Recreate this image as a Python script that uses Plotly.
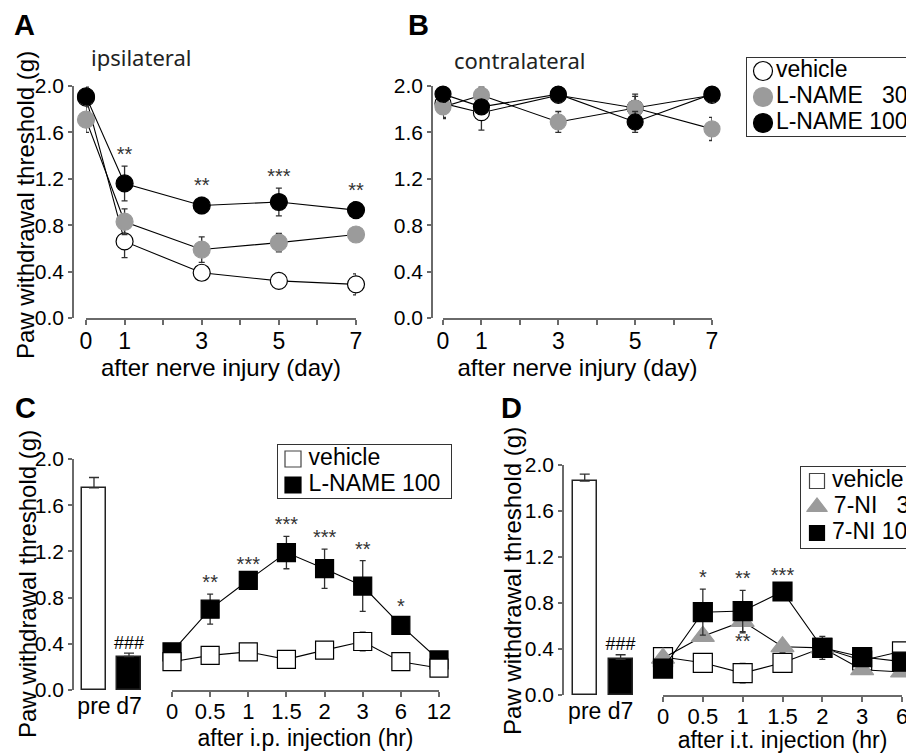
import numpy as np
import plotly.graph_objects as go

# ---------------- data ----------------
# Panels A/B: days after nerve injury
days = [0, 1, 3, 5, 7]
day_ticks = [0, 1, 2, 3, 4, 5, 6, 7]
day_ticktext = ["0", "1", "", "3", "", "5", "", "7"]

A_vehicle = [1.90, 0.66, 0.39, 0.32, 0.29]
A_vehicle_err = [0.05, 0.14, 0.02, 0.04, 0.09]
A_ln30 = [1.71, 0.83, 0.59, 0.65, 0.72]
A_ln30_err = [0.11, 0.11, 0.11, 0.08, 0.05]
A_ln100 = [1.91, 1.16, 0.97, 1.00, 0.93]
A_ln100_err = [0.08, 0.15, 0.07, 0.12, 0.07]
A_stars = ["", "**", "**", "***", "**"]

B_vehicle = [1.85, 1.77, 1.92, 1.81, 1.92]
B_vehicle_err = [0.12, 0.15, 0.05, 0.12, 0.05]
B_ln30 = [1.82, 1.92, 1.69, 1.81, 1.63]
B_ln30_err = [0.10, 0.07, 0.09, 0.10, 0.10]
B_ln100 = [1.93, 1.82, 1.93, 1.69, 1.93]
B_ln100_err = [0.07, 0.05, 0.07, 0.09, 0.07]

# Panel C
bar_labels = ["pre", "d7"]
C_bar = [1.75, 0.29]
C_bar_err = [0.09, 0.03]
C_bar_mark = ["", "###"]
C_times = ["0", "0.5", "1", "1.5", "2", "3", "6", "12"]
C_vehicle = [0.245, 0.30, 0.33, 0.265, 0.345, 0.42, 0.245, 0.19]
C_vehicle_err = [0.03, 0.03, 0.04, 0.02, 0.03, 0.08, 0.03, 0.02]
C_ln100 = [0.33, 0.70, 0.95, 1.19, 1.05, 0.90, 0.56, 0.26]
C_ln100_err = [0.03, 0.13, 0.04, 0.14, 0.17, 0.22, 0.06, 0.03]
C_stars = ["", "**", "***", "***", "***", "**", "*", ""]

# Panel D
D_bar = [1.86, 0.31]
D_bar_err = [0.06, 0.04]
D_bar_mark = ["", "###"]
D_times = ["0", "0.5", "1", "1.5", "2", "3", "6"]
D_vehicle = [0.33, 0.28, 0.19, 0.28, 0.41, 0.30, 0.38]
D_vehicle_err = [0.03, 0.03, 0.085, 0.03, 0.03, 0.03, 0.03]
D_7ni3 = [0.32, 0.51, 0.64, 0.42, 0.41, 0.22, 0.20]
D_7ni3_err = [0.03, 0.03, 0.10, 0.05, 0.05, 0.03, 0.03]
D_7ni10 = [0.23, 0.72, 0.73, 0.90, 0.41, 0.33, 0.29]
D_7ni10_err = [0.03, 0.20, 0.18, 0.04, 0.10, 0.03, 0.03]
D_stars_top = ["", "*", "**", "***", "", "", ""]
D_stars_bottom = ["", "", "**", "", "", "", ""]

y_ticks = [0.0, 0.4, 0.8, 1.2, 1.6, 2.0]
y_ticktext = ["0.0", "0.4", "0.8", "1.2", "1.6", "2.0"]

legend_AB = ["vehicle", "L-NAME\u00a0\u00a0\u00a030", "L-NAME 100"]
legend_C = ["\u2009vehicle", "\u2009L-NAME 100"]
legend_D = ["\u2009vehicle", "\u20097-NI\u00a0\u00a0\u00a03", "\u20097-NI 10"]

# ---------------- styling helpers ----------------
# the page body keeps an 8px margin, so the figure is sized to fit the window
OFF = 8
W, H = 914 - OFF, 753 - OFF
def fx(p):
    return (p - OFF) / W
def fy(p):
    return 1 - (p - OFF) / H

FONT = "Liberation Sans, Arial, Helvetica, sans-serif"
HUMAN = "Noto Sans, Open Sans, sans-serif"
AXC = "#6a6a6a"
GRAY = "#9b9b9b"
ERRC = "#303030"
YTITLE = "Paw withdrawal threshold (g)"
LEG_FONT = 23

fig = go.Figure()


def series(xa, ya, x, y, err, symbol, fill, outline, size, lw=1.2):
    fig.add_trace(go.Scatter(
        x=x, y=y, xaxis=xa, yaxis=ya, mode="lines+markers",
        line=dict(color="black", width=1.1),
        marker=dict(symbol=symbol, size=size, color=fill, opacity=1,
                    line=dict(color=outline, width=lw)),
        error_y=dict(type="data", array=err, visible=True, color=ERRC, thickness=1.3, width=3),
        cliponaxis=False, showlegend=False, hoverinfo="skip"))


def stars(xa, ya, x, y, labels, pos="top center", size=20, color="#333333"):
    fig.add_trace(go.Scatter(
        x=x, y=y, xaxis=xa, yaxis=ya, mode="text", text=labels, textposition=pos,
        textfont=dict(size=size, color=color, family=FONT),
        cliponaxis=False, showlegend=False, hoverinfo="skip"))


def bars(xa, ya, y, err, width):
    fig.add_trace(go.Bar(
        x=bar_labels, y=y, xaxis=xa, yaxis=ya, width=width,
        marker=dict(color=["white", "black"], line=dict(color="#222222", width=1.5)),
        error_y=dict(type="data", array=err, arrayminus=[0] * len(err), symmetric=False,
                     visible=True, color=ERRC, thickness=1.3, width=5),
        showlegend=False, hoverinfo="skip"))


def legend_items(xa, ya, names, symbols, fills, outlines, sizes):
    fig.add_trace(go.Scatter(
        x=[0] * len(names), y=list(range(len(names))), xaxis=xa, yaxis=ya,
        mode="markers+text", text=names, textposition="middle right",
        textfont=dict(size=LEG_FONT, color="black", family=FONT),
        marker=dict(symbol=symbols, size=sizes, color=fills, opacity=1,
                    line=dict(color=outlines, width=1.2)),
        cliponaxis=False, showlegend=False, hoverinfo="skip"))


# ---------------- Panel A ----------------
series("x", "y", days, A_vehicle, A_vehicle_err, "circle", "white", "black", 17)
series("x", "y", days, A_ln30, A_ln30_err, "circle", GRAY, GRAY, 17)
series("x", "y", days, A_ln100, A_ln100_err, "circle", "black", "black", 17)
stars("x", "y", days, np.add(A_ln100, A_ln100_err), A_stars)

# ---------------- Panel B ----------------
series("x2", "y2", days, B_vehicle, B_vehicle_err, "circle", "white", "black", 16)
series("x2", "y2", days, B_ln30, B_ln30_err, "circle", GRAY, GRAY, 16)
series("x2", "y2", days, B_ln100, B_ln100_err, "circle", "black", "black", 16)

# ---------------- Panel C ----------------
bars("x3", "y3", C_bar, C_bar_err, 0.69)
stars("x3", "y3", bar_labels, np.add(C_bar, C_bar_err), C_bar_mark, size=18, color="black")
series("x4", "y3", C_times, C_ln100, C_ln100_err, "square", "black", "black", 18)
series("x4", "y3", C_times, C_vehicle, C_vehicle_err, "square", "white", "black", 18)
stars("x4", "y3", C_times, np.add(C_ln100, C_ln100_err), C_stars)

# ---------------- Panel D ----------------
bars("x5", "y5", D_bar, D_bar_err, 0.67)
stars("x5", "y5", bar_labels, np.add(D_bar, D_bar_err), D_bar_mark, size=18, color="black")
series("x6", "y5", D_times, D_vehicle, D_vehicle_err, "square", "white", "black", 19)
series("x6", "y5", D_times, D_7ni3, D_7ni3_err, "triangle-up", GRAY, GRAY, 20)
series("x6", "y5", D_times, D_7ni10, D_7ni10_err, "square", "black", "black", 19)
stars("x6", "y5", D_times, np.add(D_7ni10, D_7ni10_err), D_stars_top)
stars("x6", "y5", D_times, np.subtract(D_7ni3, D_7ni3_err), D_stars_bottom, pos="bottom center")

# ---------------- legends ----------------
legend_items("x7", "y7", legend_AB, ["circle"] * 3, ["white", GRAY, "black"],
             ["black", GRAY, "black"], [19, 19, 19])
legend_items("x8", "y8", legend_C, ["square"] * 2, ["white", "black"], ["#444444", "black"], [16, 16])
legend_items("x9", "y9", legend_D, ["square", "triangle-up", "square"],
             ["white", GRAY, "black"], ["#444444", GRAY, "black"], [15, 18, 15])

# ---------------- axes ----------------
tickfont_y = dict(size=21, family=FONT, color="black")
tickfont_x = dict(size=23, family=FONT, color="black")
tickfont_x2 = dict(size=22, family=FONT, color="black")


def yaxis(top, bot, pos):
    return dict(domain=[fy(bot), fy(top)], range=[0, 2], anchor="free", position=fx(pos),
                tickvals=y_ticks, ticktext=y_ticktext, showline=True, linecolor=AXC, linewidth=1.5,
                ticks="outside", ticklen=4, tickwidth=1.5, tickcolor=AXC, showgrid=False,
                zeroline=False, tickfont=tickfont_y, fixedrange=True, automargin=False)


def xaxis_line(left, right, anchor, rng, tickvals, ticktext, title, lab_shift=0, standoff=4,
               tickfont=tickfont_x, title_size=24):
    return dict(domain=[fx(left), fx(right)], range=rng, anchor=anchor,
                tickvals=tickvals, ticktext=ticktext, showline=True, linecolor=AXC, linewidth=1.5,
                ticks="outside", ticklen=5, tickwidth=1.5, tickcolor=AXC, showgrid=False,
                zeroline=False, tickfont=tickfont, fixedrange=True, automargin=False,
                ticklabelstandoff=lab_shift,
                title=dict(text=title, font=dict(size=title_size, family=FONT, color="black"),
                           standoff=standoff))


def xaxis_bar(left, right, anchor, rng):
    return dict(domain=[fx(left), fx(right)], range=rng, anchor=anchor, type="category",
                categoryorder="array", categoryarray=bar_labels,
                showline=False, ticks="", showgrid=False, zeroline=False,
                tickfont=tickfont_x, fixedrange=True, automargin=False)


def legend_axes(left, right, top, bot, n, rows_px, first_px, marker_px):
    xa = dict(domain=[fx(left), min(1.0, fx(right))], range=[-1, (right - left) / marker_px - 1],
              showline=True, mirror=True, linecolor="#333333", linewidth=1.3,
              showticklabels=False, ticks="", showgrid=False, zeroline=False, fixedrange=True,
              automargin=False)
    ya = dict(domain=[fy(bot), fy(top)],
              range=[(n - 1) + (bot - (first_px + (n - 1) * rows_px)) / rows_px,
                     -(first_px - top) / rows_px],
              showline=True, mirror=True, linecolor="#333333", linewidth=1.3,
              showticklabels=False, ticks="", showgrid=False, zeroline=False, fixedrange=True,
              automargin=False)
    return xa, ya


lx7, ly7 = legend_axes(747, 914, 58, 136, 3, 26, 71, 16)
lx8, ly8 = legend_axes(278, 451, 445, 498, 2, 26, 459, 15)
lx9, ly9 = legend_axes(801, 914, 467, 548, 3, 26, 481, 16)
lx7["anchor"], ly7["anchor"] = "y7", "x7"
lx8["anchor"], ly8["anchor"] = "y8", "x8"
lx9["anchor"], ly9["anchor"] = "y9", "x9"

fig.update_layout(
    template="none",
    width=W, height=H, margin=dict(l=0, r=0, t=0, b=0, pad=0), autosize=False,
    paper_bgcolor="white", plot_bgcolor="rgba(0,0,0,0)", showlegend=False,
    font=dict(family=FONT, color="black"),
    bargap=0,
    # Panel A
    xaxis=xaxis_line(86, 356, "y", [0, 7], day_ticks, day_ticktext, "after nerve injury (day)",
                     lab_shift=-3, standoff=4),
    yaxis=yaxis(86, 318, 73),
    # Panel B
    xaxis2=xaxis_line(443, 712, "y2", [0, 7], day_ticks, day_ticktext, "after nerve injury (day)",
                      lab_shift=-3, standoff=4),
    yaxis2=yaxis(86, 318, 432),
    # Panel C
    xaxis3=xaxis_bar(76, 150, "y3", [-0.514, 1.6]),
    yaxis3=yaxis(459, 690, 73),
    xaxis4=dict(xaxis_line(172, 439, "y3", [0, 7], C_times, C_times, "after i.p. injection (hr)",
                           lab_shift=-4, standoff=7, tickfont=tickfont_x2, title_size=23),
                type="category", categoryorder="array", categoryarray=C_times),
    # Panel D
    xaxis5=xaxis_bar(565, 645, "y5", [-0.55, 1.68]),
    yaxis5=yaxis(465, 695, 563),
    xaxis6=dict(xaxis_line(663, 902, "y5", [0, 6], D_times, D_times, "after i.t. injection (hr)",
                           lab_shift=-4, standoff=7, tickfont=tickfont_x2, title_size=23),
                type="category", categoryorder="array", categoryarray=D_times),
    # legends
    xaxis7=lx7, yaxis7=ly7, xaxis8=lx8, yaxis8=ly8, xaxis9=lx9, yaxis9=ly9,
)

# y-axis titles
for x, y in [(25, 205), (27, 584), (512, 581)]:
    fig.add_annotation(text=YTITLE, x=fx(x), y=fy(y), xref="paper", yref="paper", textangle=-90,
                       showarrow=False, xanchor="center", yanchor="middle",
                       font=dict(size=24, family=FONT, color="black"))

# panel letters and side titles
for letter, x, y in [("A", 24, 25), ("B", 418, 25), ("C", 25, 408), ("D", 512, 408)]:
    fig.add_annotation(text=f"<b>{letter}</b>", x=fx(x), y=fy(y), xref="paper", yref="paper",
                       showarrow=False, xanchor="center", yanchor="middle",
                       font=dict(size=29, family=FONT, color="black"))
for txt, x, y in [("ipsilateral", 141, 57), ("contralateral", 519, 60)]:
    fig.add_annotation(text=txt, x=fx(x), y=fy(y), xref="paper", yref="paper",
                       showarrow=False, xanchor="center", yanchor="middle",
                       font=dict(size=22, family=HUMAN, color="#222222"))

fig.write_html("out.html")
